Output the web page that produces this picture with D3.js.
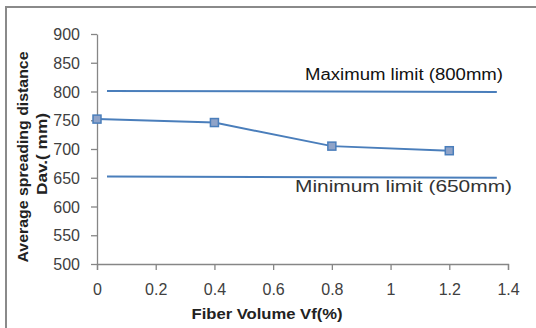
<!DOCTYPE html>
<html>
<head>
<meta charset="utf-8">
<script src="https://cdn.jsdelivr.net/npm/d3@7"></script>
<style>
  body { margin: 0; background: #fff; }
  text { font-family: "Liberation Sans", Arial, sans-serif; }
</style>
</head>
<body>
<div id="chart"></div>
<script>
// data
const fiberVf = [0, 0.4, 0.8, 1.2];
const spreadDist = [752, 746, 705, 697];
const limitX = [0.034, 1.362];
const maxLimit = [801, 799];
const minLimit = [652, 650];
const xTicks = [0, 0.2, 0.4, 0.6, 0.8, 1, 1.2, 1.4];
const yTicks = [500, 550, 600, 650, 700, 750, 800, 850, 900];

const W = 536, H = 328;
let plot = {left: 97, right: 508, top: 34, bottom: 264};
const blue = "#4a7ebb";

const svg = d3.select("#chart").append("svg")
  .attr("width", W).attr("height", H);

// outer frame
svg.append("rect")
  .attr("x", 6).attr("y", 7)
  .attr("width", 700).attr("height", 500)
  .attr("fill", "none").attr("stroke", "#8a8a8a").attr("stroke-width", 2);

let x = d3.scaleLinear().domain([0, 1.4]).range([plot.left, plot.right]);
let y = d3.scaleLinear().domain([500, 900]).range([plot.bottom, plot.top]);

// axes
const xAxis = svg.append("g")
  .attr("transform", `translate(0,${plot.bottom})`)
  .call(d3.axisBottom(x).tickValues(xTicks).tickSize(6).tickSizeOuter(6).tickPadding(14)
    .tickFormat(d => d3.format("~g")(d)));
const yAxis = svg.append("g")
  .attr("transform", `translate(${plot.left},0)`)
  .call(d3.axisLeft(y).tickValues(yTicks).tickSize(6).tickSizeOuter(0).tickPadding(11));

[xAxis, yAxis].forEach(g => {
  g.select(".domain").attr("stroke", "#868686").attr("stroke-width", 1.3);
  g.selectAll(".tick line").attr("stroke", "#868686").attr("stroke-width", 1.3);
  g.selectAll(".tick text").attr("fill", "#404040")
    .style("font-size", "16px").style("font-family", "Liberation Sans, Arial, sans-serif");
});
yAxis.selectAll(".tick text").attr("dy", "0.35em");

const line = d3.line().x(d => x(d[0])).y(d => y(d[1]));

// limit lines
[maxLimit, minLimit].forEach(arr => {
  svg.append("path")
    .datum(limitX.map((v, i) => [v, arr[i]]))
    .attr("d", line)
    .attr("fill", "none").attr("stroke", blue).attr("stroke-width", 2);
});

// measured series
const pts = fiberVf.map((v, i) => [v, spreadDist[i]]);
svg.append("path").datum(pts).attr("d", line)
  .attr("fill", "none").attr("stroke", blue).attr("stroke-width", 2);
svg.selectAll("rect.mk").data(pts).join("rect")
  .attr("class", "mk")
  .attr("x", d => x(d[0]) - 4).attr("y", d => y(d[1]) - 4)
  .attr("width", 8).attr("height", 8)
  .attr("fill", "#8fa3c8").attr("stroke", blue).attr("stroke-width", 1.5);

// limit labels
svg.append("text").attr("x", 305).attr("y", 80)
  .attr("textLength", 198).attr("lengthAdjust", "spacingAndGlyphs")
  .style("font-size", "16px").attr("fill", "#111")
  .text("Maximum limit (800mm)");
svg.append("text").attr("x", 295).attr("y", 192)
  .attr("textLength", 217).attr("lengthAdjust", "spacingAndGlyphs")
  .style("font-size", "16px").attr("fill", "#333")
  .text("Minimum limit (650mm)");

// axis titles
svg.append("text").attr("x", 267).attr("y", 319)
  .attr("text-anchor", "middle").attr("font-weight", "bold")
  .attr("textLength", 151).attr("lengthAdjust", "spacingAndGlyphs")
  .style("font-size", "15px").attr("fill", "#222")
  .text("Fiber Volume Vf(%)");

svg.append("text")
  .attr("transform", "translate(28,157) rotate(-90)")
  .attr("text-anchor", "middle").attr("font-weight", "bold")
  .attr("textLength", 211).attr("lengthAdjust", "spacingAndGlyphs")
  .style("font-size", "14px").attr("fill", "#222")
  .text("Average spreading distance");
svg.append("text")
  .attr("transform", "translate(47,154) rotate(-90)")
  .attr("text-anchor", "middle").attr("font-weight", "bold")
  .attr("textLength", 82).attr("lengthAdjust", "spacingAndGlyphs")
  .style("font-size", "14px").attr("fill", "#222")
  .text("Dav.( mm)");
</script>
</body>
</html>
